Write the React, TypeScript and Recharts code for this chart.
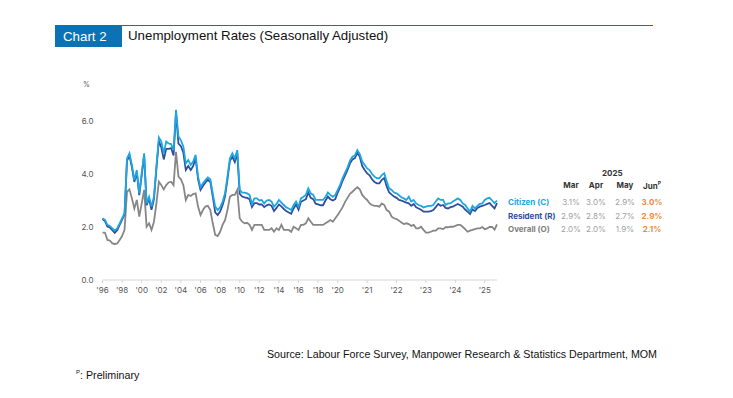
import { LineChart, Line, XAxis, YAxis } from "recharts";

// quarterly 1996Q1-2019Q4, then monthly Jan 2020 - Jun 2025
const citizen = [
  2.33, 2.27, 2.08, 2.04, 1.95, 1.86, 1.95, 2.14, 2.33, 2.52,
  4.59, 4.78, 4.34, 3.77, 4.15, 3.27, 4.03, 4.78, 2.89, 3.14,
  2.77, 3.14, 4.28, 5.38, 5.22, 4.78, 5.22, 5.15, 5.13, 4.9,
  6.42, 5.41, 5.28, 5.03, 4.4, 4.53, 4.34, 4.47, 4.72, 3.9,
  3.5, 3.65, 3.77, 3.87, 3.8, 3.27, 2.77, 2.64, 2.74, 2.95,
  3.27, 3.9, 4.59, 4.78, 4.59, 4.9, 3.4, 3.3, 3.3, 3.27,
  3.21, 2.87, 3.08, 3.08, 3.0, 3.02, 2.89, 3.0, 3.02, 2.96,
  2.77, 2.87, 3.02, 2.92, 2.83, 2.74, 2.7, 2.64, 2.83, 2.96,
  2.77, 3.08, 3.14, 3.21, 3.46, 3.27, 3.21, 3.02, 3.02, 3.02,
  3.02, 3.14, 3.3, 3.21, 3.14, 3.21,
  3.4, 3.6, 3.85, 4.05, 4.25, 4.5, 4.65, 4.7, 4.9, 4.75,
  4.47, 4.34, 4.21, 4.15, 4.0, 3.9, 3.84, 3.84, 3.96, 4.03,
  3.71, 3.46, 3.4, 3.3, 3.27, 3.2, 3.12, 3.08, 3.02, 3.14,
  2.96, 3.02, 2.89, 2.83, 2.8, 2.74, 2.77, 2.8, 2.8, 2.83,
  2.96, 3.08, 3.02, 3.02, 2.83, 2.89, 2.89, 2.96, 3.02, 3.08,
  3.02, 2.89, 2.83, 2.7, 2.58, 2.8, 2.7, 2.8, 2.87, 2.89,
  3.02, 3.08, 3.1, 3.0, 2.9, 3.0,
];

const resident = [
  2.3, 2.22, 2.02, 1.98, 1.88, 1.78, 1.88, 2.08, 2.28, 2.48,
  4.5, 4.7, 4.25, 3.7, 4.05, 3.2, 3.95, 4.7, 2.82, 3.06,
  2.65, 3.05, 4.2, 5.25, 5.0, 4.55, 4.95, 4.95, 4.98, 4.7,
  6.3, 5.15, 5.05, 4.8, 4.15, 4.3, 4.15, 4.3, 4.6, 3.8,
  3.4, 3.55, 3.68, 3.78, 3.7, 3.15, 2.55, 2.45, 2.58, 2.82,
  3.15, 3.8, 4.5, 4.65, 4.45, 4.78, 3.25, 3.15, 3.12, 3.1,
  3.05, 2.75, 2.9, 2.9, 2.85, 2.85, 2.75, 2.82, 2.85, 2.8,
  2.6, 2.72, 2.85, 2.78, 2.68, 2.6, 2.55, 2.5, 2.7, 2.85,
  2.65, 2.95, 3.0, 3.05, 3.3, 3.1, 3.05, 2.88, 2.85, 2.82,
  2.82, 3.0, 3.15, 3.05, 3.0, 3.05,
  3.3, 3.5, 3.75, 3.95, 4.15, 4.4, 4.55, 4.6, 4.8, 4.65,
  4.3, 4.15, 4.02, 3.95, 3.8, 3.7, 3.65, 3.65, 3.78, 3.85,
  3.52, 3.3, 3.22, 3.15, 3.1, 3.02, 3.0, 2.96, 2.92, 2.89,
  2.8, 2.87, 2.74, 2.7, 2.65, 2.58, 2.58, 2.58, 2.6, 2.64,
  2.75, 2.87, 2.8, 2.83, 2.72, 2.7, 2.75, 2.77, 2.82, 2.87,
  2.82, 2.77, 2.66, 2.58, 2.49, 2.67, 2.6, 2.72, 2.77, 2.8,
  2.83, 2.87, 2.9, 2.8, 2.7, 2.9,
];

const overall = [
  1.79, 1.79, 1.51, 1.49, 1.38, 1.36, 1.38, 1.51, 1.66, 1.89,
  3.33, 3.42, 3.08, 2.7, 3.02, 2.39, 2.89, 3.4, 2.01, 2.14,
  1.89, 2.2, 2.89, 3.71, 3.58, 3.42, 3.58, 3.68, 3.71, 3.58,
  4.84, 3.9, 3.8, 3.58, 3.02, 3.21, 3.17, 3.24, 3.27, 2.77,
  2.45, 2.64, 2.77, 2.8, 2.64, 2.14, 1.7, 1.66, 1.82, 2.08,
  2.26, 2.64, 3.14, 3.21, 3.21, 3.4, 2.33, 2.2, 2.14, 2.16,
  2.08, 1.89, 2.08, 2.08, 2.08, 2.08, 1.89, 1.89, 1.89, 1.95,
  1.82, 1.95, 1.89, 2.08, 1.89, 1.89, 1.89, 1.82, 2.01, 1.95,
  1.89, 2.08, 2.08, 2.14, 2.33, 2.2, 2.08, 2.08, 2.08, 2.08,
  2.08, 2.14, 2.2, 2.26, 2.2, 2.33,
  2.45, 2.6, 2.75, 2.95, 3.1, 3.25, 3.33, 3.42, 3.5, 3.42,
  3.21, 3.1, 3.02, 2.89, 2.83, 2.8, 2.8, 2.77, 2.89, 2.83,
  2.64, 2.58, 2.39, 2.33, 2.3, 2.24, 2.17, 2.11, 2.14, 2.11,
  2.04, 2.08, 1.95, 1.95, 2.01, 1.89, 1.79, 1.79, 1.82, 1.86,
  1.86, 1.95, 1.95, 1.92, 1.99, 1.99, 2.01, 2.01, 2.04, 2.08,
  2.08, 2.01, 1.92, 1.82, 1.86, 1.89, 1.92, 1.95, 1.95, 2.0,
  1.92, 1.95, 2.0, 2.0, 1.9, 2.1,
];

const periods: string[] = [];
for (let y = 1996; y <= 2019; y++) for (let q = 1; q <= 4; q++) periods.push(`${y}Q${q}`);
for (let y = 2020; y <= 2025; y++)
  for (let m = 1; m <= 12; m++) {
    if (y === 2025 && m > 6) break;
    periods.push(`${y}-${String(m).padStart(2, "0")}`);
  }

const tickPeriods = [
  "1996Q1", "1998Q1", "2000Q1", "2002Q1", "2004Q1", "2006Q1", "2008Q1",
  "2010Q1", "2012Q1", "2014Q1", "2016Q1", "2018Q1", "2020-01", "2021-01",
  "2022-01", "2023-01", "2024-01", "2025-01",
];

const tableMonths = ["Mar", "Apr", "May", "Jun"];
const tableRows = [
  { label: "Citizen (C)", color: "#1ea6e3", values: ["3.1%", "3.0%", "2.9%", "3.0%"] },
  { label: "Resident (R)", color: "#2f4f9e", values: ["2.9%", "2.8%", "2.7%", "2.9%"] },
  { label: "Overall (O)", color: "#7f7f7f", values: ["2.0%", "2.0%", "1.9%", "2.1%"] },
];

const data = periods.map((p, i) => ({
  period: p,
  citizen: citizen[i],
  resident: resident[i],
  overall: overall[i],
}));

const blue = "#0a72b5";
const tickFont = "Inter, 'DejaVu Sans', sans-serif";

export default function App() {
  const colX = [571, 596, 625, 652];
  return (
    <div
      style={{
        position: "absolute",
        left: 0,
        top: 0,
        width: 733,
        height: 398,
        background: "#fff",
        fontFamily: "'Liberation Sans', Arial, sans-serif",
        overflow: "hidden",
      }}
    >
      <div style={{ position: "absolute", left: 0, top: 0 }}>
        <LineChart
          width={733}
          height={398}
          data={data}
          margin={{ top: 94.5, right: 236, bottom: 98, left: 72.5 }}
        >
          <XAxis
            dataKey="period"
            ticks={tickPeriods}
            interval={0}
            tickFormatter={(p: string) => "'" + p.slice(2, 4)}
            height={20}
            tickSize={3}
            tickMargin={4}
            axisLine={{ stroke: "#d6d6d6" }}
            tickLine={{ stroke: "#d6d6d6" }}
            tick={{ fontSize: 8, fill: "#555", fontFamily: tickFont }}
          />
          <YAxis
            domain={[0, 7]}
            ticks={[0, 2, 4, 6]}
            tickFormatter={(v: number) => v.toFixed(1)}
            width={30}
            axisLine={false}
            tickLine={false}
            tickSize={0}
            tickMargin={9}
            tick={{ fontSize: 8, fill: "#555", fontFamily: tickFont }}
          />
          <Line dataKey="overall" stroke="#868686" strokeWidth={1.8} dot={false} isAnimationActive={false} />
          <Line dataKey="resident" stroke="#2f4f9e" strokeWidth={1.8} dot={false} isAnimationActive={false} />
          <Line dataKey="citizen" stroke="#1ea6e3" strokeWidth={1.8} dot={false} isAnimationActive={false} />
        </LineChart>
      </div>

      {/* header */}
      <div style={{ position: "absolute", left: 55, top: 24.5, width: 598, height: 1.5, background: blue }} />
      <div
        style={{
          position: "absolute",
          left: 55,
          top: 26,
          width: 67,
          height: 21,
          background: blue,
          color: "#fff",
          fontSize: 13.3,
          lineHeight: "21px",
          paddingLeft: 8,
          boxSizing: "border-box",
        }}
      >
        Chart 2
      </div>
      <div style={{ position: "absolute", left: 128, top: 28, fontSize: 13.3, lineHeight: "16px", color: "#111" }}>
        Unemployment Rates (Seasonally Adjusted)
      </div>

      <div style={{ position: "absolute", left: 83, top: 80, fontSize: 7, color: "#555", fontFamily: tickFont }}>%</div>

      {/* table */}
      <div
        style={{
          position: "absolute",
          left: 602,
          top: 168,
          fontSize: 8,
          fontWeight: 700,
          color: "#333",
          fontFamily: tickFont,
        }}
      >
        2025
      </div>
      {tableMonths.map((m, j) => (
        <div
          key={m}
          style={{
            position: "absolute",
            left: colX[j] - 10,
            width: 20,
            textAlign: "center",
            top: 180,
            fontSize: 8,
            fontWeight: 700,
            color: "#333",
            fontFamily: tickFont,
            whiteSpace: "nowrap",
          }}
        >
          {m}
          {j === 3 && <sup style={{ fontSize: 5 }}>P</sup>}
        </div>
      ))}
      {tableRows.map((r, i) => (
        <div key={r.label}>
          <div
            style={{
              position: "absolute",
              left: 508,
              top: 197 + i * 13.5,
              fontSize: 8,
              fontWeight: 700,
              color: r.color,
              fontFamily: tickFont,
              whiteSpace: "nowrap",
            }}
          >
            {r.label}
          </div>
          {r.values.map((v, j) => (
            <div
              key={j}
              style={{
                position: "absolute",
                left: colX[j] - 12,
                width: 24,
                textAlign: "center",
                top: 197 + i * 13.5,
                fontSize: 8,
                fontWeight: j === 3 ? 700 : 400,
                color: j === 3 ? "#f0883a" : "#a0a0a0",
                fontFamily: tickFont,
              }}
            >
              {v}
            </div>
          ))}
        </div>
      ))}

      {/* footer */}
      <div
        style={{
          position: "absolute",
          right: 733 - 657,
          top: 348,
          fontSize: 10.7,
          color: "#111",
          whiteSpace: "nowrap",
        }}
      >
        Source: Labour Force Survey, Manpower Research &amp; Statistics Department, MOM
      </div>
      <div style={{ position: "absolute", left: 76, top: 369, fontSize: 10.7, color: "#111" }}>
        <sup style={{ fontSize: 6 }}>P</sup>: Preliminary
      </div>
    </div>
  );
}
